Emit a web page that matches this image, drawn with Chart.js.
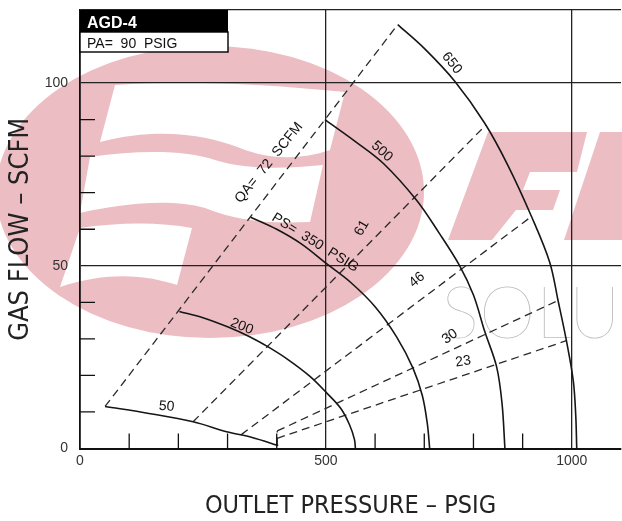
<!DOCTYPE html>
<html>
<head>
<meta charset="utf-8">
<script src="https://cdn.jsdelivr.net/npm/chart.js@4.4.1/dist/chart.umd.min.js"></script>
<style>
  html, body { margin: 0; padding: 0; background: #fff; }
</style>
</head>
<body>
<canvas id="agdChart" width="622" height="521"></canvas>
<script>
// Curvas de presión de suministro PS (psig): [presión de salida, caudal SCFM]
const ps50  = [[51, 11.5], [140, 9.6], [230, 7.3], [298, 4.6], [350, 3.0], [403, 0.8]];
const ps200 = [[202, 37.5], [250, 35.8], [300, 33.3], [345, 30.6], [380, 28], [420, 24.6], [467, 19.8], [501, 15.3], [530, 11], [548, 6.5], [558, 2.5], [560, 0]];
const ps350 = [[347, 63.3], [400, 60], [450, 56], [502, 50.5], [550, 45.5], [600, 38.8], [644, 30.5], [677, 22], [696, 14.5], [706, 7], [711, 0]];
const ps500 = [[498, 90], [560, 84], [617, 78], [684, 68], [730, 59], [772, 50], [800, 42], [823, 32], [847, 22.4], [858, 12.5], [864, 0]];
const ps650 = [[646, 116], [700, 109.5], [762, 100.5], [823, 89], [870, 77.5], [918, 63.5], [955, 51], [972, 40.5], [989, 29.5], [1003, 18.5], [1008, 9], [1010, 0]];

// Líneas de consumo de aire QA (SCFM), discontinuas
const qa72 = [[51, 11.5], [646, 116]];
const qa61 = [[230, 7.3], [825, 88.5]];
const qa46 = [[328, 3.8], [918, 63.5]];
const qa30 = [[401, 4.8], [972, 40.5]];
const qa23 = [[401, 2.8], [989, 29.5]];
const qaStub = [[401, 0.8], [401, 4.8]];

// Etiquetas de los ejes
const xTickLabels = [0, 500, 1000];
const yTickLabels = [0, 50, 100];
const xGridLines = [500, 1000];
const yGridLines = [50, 100, 120];

// Textos sobre las curvas
const curveLabels = [
    { text: 'QA=  72  SCFM', x: 384, y: 78.2, angle: -51 },
    { text: 'PS=  350  PSIG', x: 478, y: 56.3, angle: 32 },
    { text: '50', x: 176, y: 11.5, angle: 5 },
    { text: '200', x: 329, y: 33.4, angle: 22 },
    { text: '500', x: 614, y: 81.3, angle: 42 },
    { text: '650', x: 756, y: 105.5, angle: 52 },
    { text: '61', x: 573, y: 60.3, angle: -60 },
    { text: '46', x: 685, y: 46.2, angle: -40 },
    { text: '30', x: 752, y: 30.6, angle: -35 },
    { text: '23', x: 779, y: 23.8, angle: -8 }
];

const FONT = '"Liberation Sans", Arial, sans-serif';
const NARROW = '"Liberation Sans Narrow", "DejaVu Sans Condensed", "Liberation Sans", sans-serif';

function toPoints(pts) {
    return pts.map(p => ({ x: p[0], y: p[1] }));
}

function solidLine(pts) {
    return {
        data: toPoints(pts),
        showLine: true,
        borderColor: '#161616',
        borderWidth: 1.6,
        pointRadius: 0,
        tension: 0.35,
        fill: false
    };
}

function dashedLine(pts) {
    return {
        data: toPoints(pts),
        showLine: true,
        borderColor: '#2a2a2a',
        borderWidth: 1.3,
        borderDash: [8, 5],
        pointRadius: 0,
        tension: 0,
        fill: false
    };
}

// Marca de agua del fondo (logo rosa y texto gris)
const watermark = {
    id: 'watermark',
    beforeDraw(chart) {
        const ctx = chart.ctx;
        ctx.save();
        ctx.fillStyle = '#ecbec3';
        ctx.beginPath();
        ctx.ellipse(210, 192, 214, 146, 0, 0, Math.PI * 2);
        ctx.fill();

        // franjas blancas de la bandera
        ctx.fillStyle = '#ffffff';
        ctx.beginPath();
        ctx.moveTo(115, 85);
        ctx.bezierCurveTo(190, 80, 260, 84, 345, 92);
        ctx.lineTo(330, 150);
        ctx.bezierCurveTo(300, 160, 270, 160, 240, 148);
        ctx.bezierCurveTo(210, 136, 160, 126, 100, 142);
        ctx.closePath();
        ctx.fill();

        ctx.beginPath();
        ctx.moveTo(90, 157);
        ctx.bezierCurveTo(140, 150, 185, 150, 215, 160);
        ctx.bezierCurveTo(250, 171, 290, 168, 323, 165);
        ctx.lineTo(310, 222);
        ctx.bezierCurveTo(265, 224, 235, 220, 205, 208);
        ctx.bezierCurveTo(170, 198, 120, 204, 80, 213);
        ctx.closePath();
        ctx.fill();

        ctx.beginPath();
        ctx.moveTo(80, 228);
        ctx.bezierCurveTo(120, 222, 160, 222, 192, 228);
        ctx.lineTo(177, 285);
        ctx.bezierCurveTo(150, 276, 110, 270, 60, 287);
        ctx.closePath();
        ctx.fill();

        // letras cursivas rosas
        ctx.fillStyle = '#ecbec3';
        ctx.beginPath();
        ctx.moveTo(488, 132);
        ctx.lineTo(587, 132);
        ctx.lineTo(577, 172);
        ctx.lineTo(530, 172);
        ctx.lineTo(523, 190);
        ctx.lineTo(560, 190);
        ctx.lineTo(553, 210);
        ctx.lineTo(516, 210);
        ctx.lineTo(492, 240);
        ctx.lineTo(448, 240);
        ctx.closePath();
        ctx.fill();

        ctx.beginPath();
        ctx.moveTo(600, 132);
        ctx.lineTo(622, 132);
        ctx.lineTo(622, 240);
        ctx.lineTo(564, 240);
        ctx.closePath();
        ctx.fill();

        ctx.fillStyle = '#bdbdbd';
        ctx.font = '200 72px Lato, "Open Sans", sans-serif';
        ctx.textBaseline = 'alphabetic';
        ctx.fillText('SOLU', 441, 338);
        ctx.restore();
    }
};

// Marcas interiores, rótulos de curvas y recuadro AGD-4
const decorations = {
    id: 'decorations',
    afterDatasetsDraw(chart) {
        const { ctx, chartArea, scales } = chart;
        ctx.save();
        ctx.strokeStyle = '#111';
        ctx.lineWidth = 1.3;
        ctx.beginPath();
        for (let v = 100; v <= 1000; v += 100) {
            if (xGridLines.includes(v)) continue;
            const px = scales.x.getPixelForValue(v);
            ctx.moveTo(px, chartArea.bottom);
            ctx.lineTo(px, chartArea.bottom - 15);
        }
        for (let v = 10; v <= 100; v += 10) {
            if (yGridLines.includes(v)) continue;
            const py = scales.y.getPixelForValue(v);
            ctx.moveTo(chartArea.left, py);
            ctx.lineTo(chartArea.left + 15, py);
        }
        ctx.stroke();

        ctx.fillStyle = '#111';
        ctx.font = '14px ' + FONT;
        ctx.textAlign = 'center';
        ctx.textBaseline = 'middle';
        curveLabels.forEach(l => {
            ctx.save();
            ctx.translate(scales.x.getPixelForValue(l.x), scales.y.getPixelForValue(l.y));
            ctx.rotate(l.angle * Math.PI / 180);
            ctx.fillText(l.text, 0, 0);
            ctx.restore();
        });

        const x = chartArea.left, y = chartArea.top;
        ctx.fillStyle = '#000';
        ctx.fillRect(x, y, 148, 22);
        ctx.fillStyle = '#fff';
        ctx.fillRect(x, y + 22, 148, 20);
        ctx.strokeStyle = '#000';
        ctx.lineWidth = 1.4;
        ctx.strokeRect(x, y + 22, 148, 20);
        ctx.textAlign = 'left';
        ctx.textBaseline = 'alphabetic';
        ctx.fillStyle = '#fff';
        ctx.font = 'bold 16px ' + FONT;
        ctx.fillText('AGD-4', x + 7, y + 18);
        ctx.fillStyle = '#111';
        ctx.font = '14px ' + FONT;
        ctx.fillText('PA=  90  PSIG', x + 7, y + 38);
        ctx.restore();
    }
};

const ctx = document.getElementById('agdChart').getContext('2d');
const agdChart = new Chart(ctx, {
    type: 'scatter',
    data: {
        datasets: [
            solidLine(ps50), solidLine(ps200), solidLine(ps350), solidLine(ps500), solidLine(ps650),
            dashedLine(qa72), dashedLine(qa61), dashedLine(qa46), dashedLine(qa30), dashedLine(qa23), dashedLine(qaStub)
        ]
    },
    options: {
        responsive: false,
        animation: false,
        devicePixelRatio: 1,
        layout: { padding: { top: 10, right: 1, left: 0, bottom: 0 } },
        plugins: {
            legend: { display: false },
            tooltip: { enabled: false }
        },
        scales: {
            x: {
                type: 'linear',
                min: 0,
                max: 1100,
                afterFit: scale => {
                    scale.height = 72.5;
                    scale.paddingLeft = 0;
                    scale.paddingRight = 0;
                },
                ticks: {
                    stepSize: 100,
                    autoSkip: false,
                    maxRotation: 0,
                    padding: 4,
                    color: '#333',
                    font: { family: FONT, size: 14 },
                    callback: v => xTickLabels.includes(v) ? String(v) : ''
                },
                grid: {
                    drawTicks: false,
                    lineWidth: 1.3,
                    color: c => (c.tick && xGridLines.includes(c.tick.value)) ? '#222' : 'rgba(0,0,0,0)'
                },
                border: { color: '#111', width: 2 },
                title: {
                    display: true,
                    text: 'OUTLET PRESSURE – PSIG',
                    color: '#222',
                    font: { family: NARROW, size: 25, lineHeight: 1 },
                    padding: { top: 0, bottom: 2.5 }
                }
            },
            y: {
                type: 'linear',
                min: 0,
                max: 120,
                afterFit: scale => {
                    scale.width = 80;
                    scale.paddingTop = 0;
                    scale.paddingBottom = 0;
                },
                ticks: {
                    stepSize: 10,
                    autoSkip: false,
                    padding: 12,
                    color: '#333',
                    font: { family: FONT, size: 14 },
                    callback: v => yTickLabels.includes(v) ? String(v) : ''
                },
                grid: {
                    drawTicks: false,
                    lineWidth: 1.3,
                    color: c => (c.tick && yGridLines.includes(c.tick.value)) ? '#222' : 'rgba(0,0,0,0)'
                },
                border: { color: '#111', width: 1.8 },
                title: {
                    display: true,
                    text: 'GAS FLOW – SCFM',
                    color: '#222',
                    font: { family: NARROW, size: 27, lineHeight: 1 },
                    padding: { top: 7.5, bottom: 0 }
                }
            }
        }
    },
    plugins: [watermark, decorations]
});
</script>
</body>
</html>
